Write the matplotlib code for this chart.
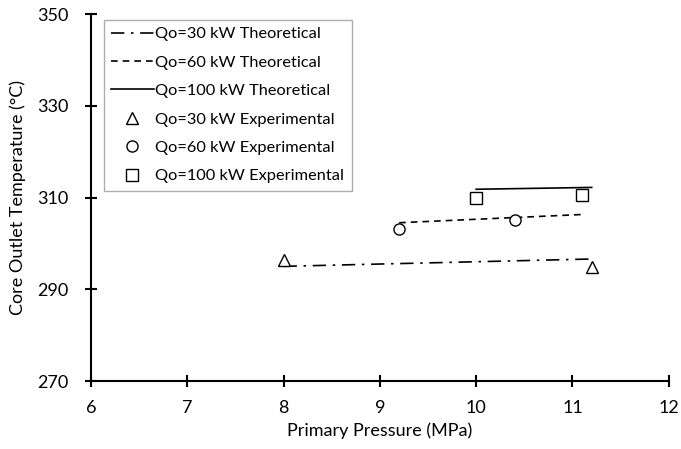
import matplotlib
matplotlib.use('Agg')
import matplotlib.pyplot as plt

plt.rcParams['font.family'] = ['Lato', 'DejaVu Sans']

# Theoretical lines (pressure MPa, temperature C)
p_30_th = [8.0, 11.2]
t_30_th = [295.0, 296.6]
p_60_th = [9.2, 11.1]
t_60_th = [304.5, 306.3]
p_100_th = [10.0, 11.2]
t_100_th = [311.8, 312.2]

# Experimental points
p_30_ex = [8.0, 11.2]
t_30_ex = [296.4, 294.9]
p_60_ex = [9.2, 10.4]
t_60_ex = [303.2, 305.0]
p_100_ex = [10.0, 11.1]
t_100_ex = [309.8, 310.5]

fig = plt.figure(figsize=(6.81, 4.49), dpi=100)
ax = fig.add_axes([0.1336, 0.1514, 0.8484, 0.8174])

ax.plot(p_30_th, t_30_th, color='black', lw=1.2, dashes=(8, 4, 1.5, 4), label='Qo=30 kW Theoretical')
ax.plot(p_60_th, t_60_th, color='black', lw=1.2, dashes=(4, 3), label='Qo=60 kW Theoretical')
ax.plot(p_100_th, t_100_th, color='black', lw=1.2, label='Qo=100 kW Theoretical')
ax.plot(p_30_ex, t_30_ex, ls='none', marker='^', ms=8, mfc='white', mec='black', mew=1.0,
        label='Qo=30 kW Experimental')
ax.plot(p_60_ex, t_60_ex, ls='none', marker='o', ms=8, mfc='white', mec='black', mew=1.0,
        label='Qo=60 kW Experimental')
ax.plot(p_100_ex, t_100_ex, ls='none', marker='s', ms=8, mfc='white', mec='black', mew=1.0,
        label='Qo=100 kW Experimental')

ax.set_xlim(6, 12)
ax.set_ylim(270, 350)
ax.set_xticks(range(6, 13))
ax.set_yticks(range(270, 351, 20))
ax.spines['top'].set_visible(False)
ax.spines['right'].set_visible(False)
for s in ['left', 'bottom']:
    ax.spines[s].set_linewidth(1.5)
ax.tick_params(direction='inout', length=8, width=1.5, labelsize=13, colors='black')
ax.tick_params(axis='x', pad=10)
ax.tick_params(axis='y', pad=12)

ax.set_xlabel('Primary Pressure (MPa)', fontsize=13, labelpad=4)
ax.set_ylabel('Core Outlet Temperature (\u00b0C)', fontsize=13, labelpad=8)

leg = ax.legend(loc='upper left', bbox_to_anchor=(0.022, 0.985), fontsize=11.8,
                frameon=True, fancybox=False, edgecolor='#999999', handlelength=2.6,
                handletextpad=0.1, labelspacing=0.85, borderpad=0.45, borderaxespad=0)
leg.get_frame().set_linewidth(1.0)

fig.savefig('out.png', dpi=100)
